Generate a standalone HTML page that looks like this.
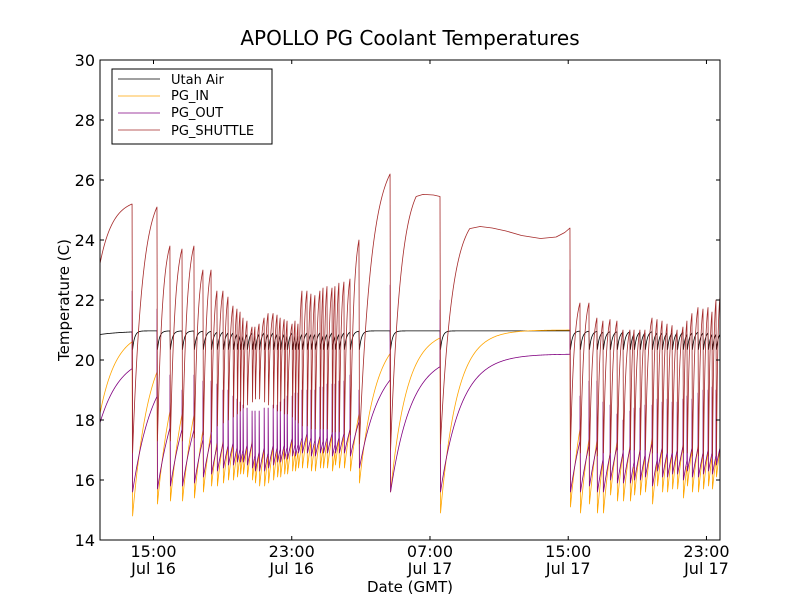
<!DOCTYPE html>
<html><head><meta charset="utf-8">
<style>
body{margin:0;background:#fff;}
svg text{font-family:"DejaVu Sans","Liberation Sans",sans-serif;fill:#000;}
</style></head>
<body>
<svg id="chart" width="800" height="600" viewBox="0 0 800 600" xmlns="http://www.w3.org/2000/svg">
<rect x="0" y="0" width="800" height="600" fill="#fff"/>
<text x="410" y="45" font-size="20" text-anchor="middle">APOLLO PG Coolant Temperatures</text>
<g id="series"></g>
<rect x="100" y="60" width="620" height="480" fill="none" stroke="#000" stroke-width="1"/>
<g id="axes"></g>
<text transform="translate(69,300) rotate(-90)" font-size="15" text-anchor="middle">Temperature (C)</text>
<text x="410" y="592" font-size="15" text-anchor="middle">Date (GMT)</text>
<g>
<rect x="112" y="69" width="160" height="75" fill="#fff" stroke="#000" stroke-width="1"/>
<g><line x1="118" y1="79" x2="160" y2="79" stroke="#000" stroke-width="0.8"/><text x="171" y="84" font-size="13">Utah Air</text></g>
<g><line x1="118" y1="96" x2="160" y2="96" stroke="#FFA500" stroke-width="0.8"/><text x="171" y="100" font-size="13">PG_IN</text></g>
<g><line x1="118" y1="113" x2="160" y2="113" stroke="#800080" stroke-width="0.8"/><text x="171" y="117" font-size="13">PG_OUT</text></g>
<g><line x1="118" y1="130" x2="160" y2="130" stroke="#A52A2A" stroke-width="0.8"/><text x="171" y="135" font-size="13">PG_SHUTTLE</text></g>
</g>
</svg>
<script>
// times in hours since Jul 16 00:00 GMT
const tStart = 11.9, tEnd = 47.78;
const yTicks = [14,16,18,20,22,24,26,28,30];
const xTickHours = [15,23,31,39,47];
const xTickTime = ["15:00","23:00","07:00","15:00","23:00"];
const xTickDay = ["Jul 16","Jul 16","Jul 17","Jul 17","Jul 17"];
const spikeT = [13.76,15.20,15.95,16.65,17.34,17.86,18.33,18.67,19.02,19.31,19.60,19.83,20.01,20.18,20.41,20.70,20.87,21.11,21.40,21.63,21.92,22.15,22.33,22.56,22.73,23.02,23.19,23.36,23.59,23.88,24.11,24.34,24.63,24.81,25.04,25.33,25.50,25.73,26.02,26.37,26.89,28.69,31.58,39.10,39.68,40.20,40.66,41.01,41.42,41.82,42.17,42.57,42.81,43.15,43.44,43.85,44.14,44.43,44.72,45.01,45.30,45.64,45.87,46.16,46.51,46.80,47.09,47.32,47.55];
const shuttlePre = [25.2,25.1,23.8,23.7,23.8,23.0,23.0,22.3,22.3,22.1,21.8,21.7,21.6,21.4,21.3,21.1,21.1,21.2,21.4,21.55,21.55,21.5,21.4,21.35,21.3,21.2,21.3,21.2,22.3,22.3,22.2,22.15,22.3,22.4,22.45,22.4,22.45,22.56,22.6,22.7,24.0,26.2,25.45,24.4,21.9,21.9,21.4,21.3,21.35,21.3,21.0,21.0,21.0,21.0,21.0,21.4,21.35,21.3,21.2,21.15,21.0,21.1,21.3,21.55,21.75,21.7,21.75,21.6,22.0];
const shuttleLow = [16.9,17.3,17.3,17.3,17.4,17.5,17.6,17.8,17.9,18.0,18.1,18.2,18.3,18.4,18.5,18.6,18.7,18.7,18.6,18.5,18.4,18.3,18.3,18.2,18.2,18.1,18.0,17.9,17.8,17.8,17.7,17.7,17.7,17.7,17.7,17.6,17.6,17.6,17.5,17.5,17.2,17.0,17.2,17.0,16.9,16.8,16.8,16.9,16.9,17.0,17.0,17.0,17.0,17.0,17.0,16.9,16.9,16.9,16.9,16.9,16.9,16.9,16.9,16.8,16.8,16.8,16.8,16.8,16.8];
const shuttleWayT = [30.2,30.6,31.2,33.3,33.9,34.6,35.4,36.3,37.4,38.3,38.8];
const shuttleWayV = [25.45,25.52,25.5,24.38,24.45,24.4,24.3,24.15,24.05,24.1,24.25];
const shuttleFirst = 23.2, shuttleLast = 22.1;
const inLow = [14.8,15.2,15.3,15.3,15.4,15.6,15.8,15.8,15.9,16.0,16.0,16.1,16.2,16.2,16.1,16.0,15.9,15.8,15.8,15.9,16.0,16.1,16.1,16.2,16.2,16.3,16.3,16.4,16.4,16.4,16.3,16.3,16.4,16.4,16.4,16.3,16.5,16.4,16.4,16.3,15.9,15.6,14.9,15.1,14.9,15.2,14.9,14.9,15.5,15.3,15.3,15.3,15.5,15.5,15.6,15.2,15.8,15.6,15.6,15.7,15.7,15.4,15.8,15.6,15.6,15.7,15.8,15.7,16.1];
const outLow = [15.6,15.7,15.8,15.8,15.9,16.1,16.2,16.3,16.4,16.5,16.5,16.6,16.6,16.6,16.5,16.4,16.3,16.3,16.3,16.4,16.5,16.6,16.6,16.7,16.7,16.8,16.8,16.9,16.9,16.9,16.8,16.8,16.9,16.9,16.9,16.8,16.9,16.9,16.9,16.8,16.4,15.6,15.6,15.6,15.6,15.8,15.6,15.6,16.0,15.9,15.9,15.9,16.0,16.0,16.1,15.8,16.3,16.1,16.1,16.2,16.2,16.0,16.3,16.1,16.1,16.2,16.3,16.2,16.5];
const outSpike = [22.3,21.7,19.5,19.0,19.5,19.3,19.3,19.2,19.0,19.0,18.8,18.7,18.6,18.5,18.4,18.3,18.3,18.3,18.4,18.4,18.5,18.5,18.6,18.7,18.8,18.8,18.9,18.9,19.0,19.0,19.0,19.0,19.1,19.1,19.2,19.2,19.2,19.3,19.3,19.5,19.0,22.5,22.0,23.0,18.8,19.3,19.3,18.6,18.5,18.2,18.0,18.3,18.4,18.4,18.5,18.5,18.7,18.6,18.7,18.6,18.6,18.7,18.8,18.7,18.9,19.0,19.0,19.1,19.0];
const inFirst = 18.2, inTarget = 21.0, inTau = 0.95;
const outFirst = 17.9, outTarget = 20.2, outTau = 1.2;
const airFirst = 20.85, airRest = 20.97, airDip = 20.35, airTau = 0.12;

function X(h){ return 153.5 + (h - 15) * 17.28; }
function Y(v){ return 60 + (30 - v) * 30; }
const NS = "http://www.w3.org/2000/svg";
const DROP = 0.03, STEP = 0.02;

function concave(a, b, f){ const k = 2.5; return a + (b - a) * (1 - Math.exp(-k * f)) / (1 - Math.exp(-k)); }

function shuttlePts(){
  const pts = [];
  const n = spikeT.length;
  const segs = [];
  segs.push([tStart, shuttleFirst, spikeT[0], shuttlePre[0]]);
  for (let i = 0; i < n; i++){
    const t0 = spikeT[i] + DROP;
    const t1 = i + 1 < n ? spikeT[i + 1] : tEnd;
    const v1 = i + 1 < n ? shuttlePre[i + 1] : shuttleLast;
    segs.push([t0, shuttleLow[i], t1, v1, spikeT[i]]);
  }
  segs.forEach((s, idx) => {
    const [a, va, b, vb, ts] = s;
    if (ts !== undefined) pts.push([ts, shuttlePre[idx - 1]]);
    const tg = [];
    shuttleWayT.forEach((w, j) => { if (w > a && w < b) tg.push([w, shuttleWayV[j]]); });
    tg.push([b, vb]);
    const [b1, v1] = tg[0];
    for (let t = a; t < b1; t += STEP) pts.push([t, concave(va, v1, (t - a) / (b1 - a))]);
    tg.forEach(p => pts.push(p));
  });
  return pts;
}
function relaxPts(first, lows, target, tau, spikes){
  const pts = [];
  const n = spikeT.length;
  let a = tStart, va = first;
  for (let i = 0; i <= n; i++){
    const b = i < n ? spikeT[i] : tEnd;
    const f = t => target - (target - va) * Math.exp(-(t - a) / tau);
    for (let t = a; t < b; t += STEP) pts.push([t, f(t)]);
    pts.push([b, f(b)]);
    if (i < n){
      if (spikes) pts.push([b + 0.005, spikes[i]]);
      a = b + DROP; va = lows[i];
    }
  }
  return pts;
}
function airPts(){
  const pts = [];
  const n = spikeT.length;
  let a = tStart, va = airFirst;
  for (let i = 0; i <= n; i++){
    const b = i < n ? spikeT[i] : tEnd;
    const tau = i === 0 ? 1.5 : airTau;
    const f = t => airRest - (airRest - va) * Math.exp(-(t - a) / tau);
    for (let t = a; t < b; t += STEP) pts.push([t, f(t)]);
    pts.push([b, f(b)]);
    if (i < n){ a = b + DROP; va = airDip; }
  }
  return pts;
}
function toPath(pts){
  return pts.map((p, i) => (i ? "L" : "M") + X(Math.min(Math.max(p[0], tStart), tEnd)).toFixed(2) + "," + Y(p[1]).toFixed(2)).join("");
}
const g = document.getElementById("series");
function addLine(pts, color, name){
  const p = document.createElementNS(NS, "path");
  p.setAttribute("d", toPath(pts));
  p.setAttribute("fill", "none");
  p.setAttribute("stroke", color);
  p.setAttribute("stroke-width", "0.8");
  p.setAttribute("stroke-linejoin", "round");
  
  
  g.appendChild(p);
}
const clip = document.createElementNS(NS, "clipPath");
clip.setAttribute("id", "pc");
const cr = document.createElementNS(NS, "rect");
cr.setAttribute("x", 100); cr.setAttribute("y", 60); cr.setAttribute("width", 620); cr.setAttribute("height", 480);
clip.appendChild(cr);
document.getElementById("chart").appendChild(clip);
g.setAttribute("clip-path", "url(#pc)");

addLine(airPts(), "#000000", "utah-air-line");
addLine(relaxPts(inFirst, inLow, inTarget, inTau, null), "#FFA500", "pg-in-line");
addLine(relaxPts(outFirst, outLow, outTarget, outTau, outSpike), "#800080", "pg-out-line");
addLine(shuttlePts(), "#A52A2A", "pg-shuttle-line");

const ax = document.getElementById("axes");
yTicks.forEach(v => {
  const y = Y(v);
  const t1 = document.createElementNS(NS, "path");
  t1.setAttribute("d", `M100,${y}h4M720,${y}h-4`);
  t1.setAttribute("stroke", "#000");
  
  
  ax.appendChild(t1);
  const tx = document.createElementNS(NS, "text");
  tx.setAttribute("x", 95); tx.setAttribute("y", y + 6);
  tx.setAttribute("font-size", "16"); tx.setAttribute("text-anchor", "end");
  tx.textContent = v;
  
  
  ax.appendChild(tx);
});
xTickHours.forEach((h, i) => {
  const x = X(h);
  const t1 = document.createElementNS(NS, "path");
  t1.setAttribute("d", `M${x},540v-4M${x},60v4`);
  t1.setAttribute("stroke", "#000");
  
  
  ax.appendChild(t1);
  const a = document.createElementNS(NS, "text");
  a.setAttribute("x", x); a.setAttribute("y", 557);
  a.setAttribute("font-size", "16"); a.setAttribute("text-anchor", "middle");
  a.textContent = xTickTime[i];
  
  
  ax.appendChild(a);
  const b = document.createElementNS(NS, "text");
  b.setAttribute("x", x); b.setAttribute("y", 574);
  b.setAttribute("font-size", "16"); b.setAttribute("text-anchor", "middle");
  b.textContent = xTickDay[i];
  
  
  ax.appendChild(b);
});
</script>
</body></html>
